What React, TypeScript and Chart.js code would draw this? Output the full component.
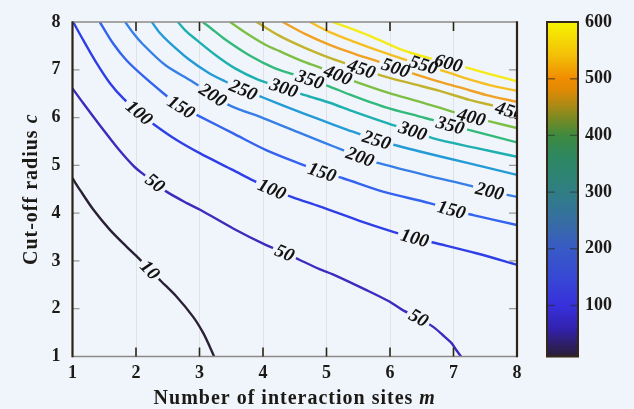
import React, { useEffect, useRef } from 'react';
import { Chart, registerables } from 'chart.js';

Chart.register(...registerables);

type Pt = [number, number];

// ---------------- data ----------------
const levels = [10, 50, 100, 150, 200, 250, 300, 350, 400, 450, 500, 550, 600];

const lineColors = [
  '#2a2136', '#3a2cbc', '#2f3fe8', '#3463f0', '#377fe6', '#259bd6', '#1eafb0',
  '#34b97c', '#7dbf45', '#c2b32c', '#f0a124', '#f5bf22', '#f5ea1a',
];

const contour10: Pt[] = [[1.0, 4.73], [1.12, 4.48], [1.33, 4.07], [1.59, 3.65], [1.85, 3.3], [2.04, 3.06], [2.22, 2.81], [2.4, 2.57], [2.64, 2.25], [2.9, 1.83], [3.06, 1.49], [3.16, 1.21], [3.23, 1.0]];
const contour50: Pt[] = [[1.0, 6.61], [1.17, 6.3], [1.43, 5.84], [1.7, 5.38], [1.96, 4.99], [2.12, 4.81], [2.3, 4.63], [2.48, 4.45], [2.8, 4.21], [3.01, 4.07], [3.53, 3.68], [4.05, 3.33], [4.34, 3.17], [4.58, 3.02], [4.89, 2.83], [5.1, 2.72], [5.63, 2.39], [5.99, 2.15], [6.2, 1.97], [6.45, 1.81], [6.68, 1.62], [6.83, 1.45], [6.97, 1.28], [7.04, 1.14], [7.12, 1.0]];
const contour100: Pt[] = [[1.01, 8.0], [1.17, 7.62], [1.38, 7.14], [1.59, 6.72], [1.8, 6.4], [2.05, 6.1], [2.3, 5.84], [2.64, 5.53], [3.01, 5.25], [3.53, 4.9], [3.85, 4.68], [4.14, 4.5], [4.47, 4.33], [4.89, 4.14], [5.52, 3.84], [6.05, 3.61], [6.39, 3.48], [6.73, 3.37], [7.36, 3.16], [8.0, 2.92]];
const contour150: Pt[] = [[1.43, 8.0], [1.64, 7.55], [1.85, 7.2], [2.12, 6.86], [2.43, 6.51], [2.71, 6.22], [3.01, 6.02], [3.53, 5.67], [4.05, 5.32], [4.63, 5.01], [4.93, 4.86], [5.26, 4.73], [5.89, 4.45], [6.62, 4.21], [6.97, 4.07], [7.31, 3.96], [8.0, 3.75]];
const contour200: Pt[] = [[1.83, 8.0], [1.95, 7.78], [2.09, 7.56], [2.46, 7.1], [2.88, 6.76], [3.21, 6.47], [3.5, 6.24], [4.0, 5.99], [4.58, 5.68], [4.97, 5.47], [5.26, 5.32], [5.53, 5.18], [5.84, 5.04], [6.67, 4.76], [7.21, 4.59], [7.57, 4.46], [8.0, 4.34]];
const contour250: Pt[] = [[2.25, 8.0], [2.37, 7.78], [2.51, 7.59], [2.83, 7.22], [3.14, 6.94], [3.4, 6.76], [3.69, 6.58], [4.0, 6.42], [4.42, 6.2], [4.89, 5.96], [5.32, 5.75], [5.79, 5.53], [6.12, 5.41], [6.47, 5.29], [7.25, 5.04], [8.0, 4.8]];
const contour300: Pt[] = [[2.66, 8.0], [2.78, 7.82], [2.93, 7.65], [3.25, 7.31], [3.56, 7.03], [3.93, 6.79], [4.33, 6.62], [4.66, 6.47], [5.05, 6.31], [5.44, 6.12], [5.99, 5.87], [6.36, 5.72], [6.67, 5.57], [7.33, 5.37], [8.0, 5.18]];
const contour350: Pt[] = [[3.05, 8.0], [3.17, 7.88], [3.4, 7.64], [3.79, 7.3], [4.19, 7.03], [4.47, 6.91], [4.74, 6.8], [5.05, 6.65], [5.37, 6.48], [5.92, 6.22], [6.47, 6.02], [6.67, 5.95], [6.95, 5.84], [7.3, 5.72], [8.0, 5.48]];
const contour400: Pt[] = [[3.48, 8.0], [3.72, 7.78], [4.03, 7.53], [4.26, 7.39], [4.66, 7.16], [4.93, 7.03], [5.18, 6.89], [5.52, 6.72], [5.99, 6.51], [6.47, 6.33], [6.94, 6.14], [7.28, 6.01], [7.6, 5.91], [8.0, 5.78]];
const contour450: Pt[] = [[3.9, 8.0], [4.26, 7.71], [4.66, 7.46], [5.05, 7.25], [5.33, 7.12], [5.55, 7.02], [5.84, 6.89], [6.31, 6.72], [6.78, 6.56], [7.25, 6.37], [7.65, 6.24], [7.88, 6.14], [8.0, 6.1]];
const contour500: Pt[] = [[4.31, 8.0], [4.66, 7.75], [5.05, 7.52], [5.45, 7.33], [5.84, 7.16], [6.09, 7.04], [6.39, 6.91], [6.73, 6.77], [7.13, 6.62], [7.52, 6.47], [8.0, 6.33]];
const contour550: Pt[] = [[4.74, 8.0], [5.05, 7.79], [5.45, 7.58], [5.84, 7.39], [6.2, 7.23], [6.53, 7.1], [6.95, 6.93], [7.17, 6.83], [7.57, 6.68], [8.0, 6.56]];
const contour600: Pt[] = [[5.1, 8.0], [5.29, 7.91], [5.68, 7.71], [6.2, 7.41], [6.55, 7.27], [6.92, 7.14], [7.22, 7.04], [7.57, 6.91], [8.0, 6.76]];

const labels10: Pt[] = [[2.22, 2.81]];
const labels50: Pt[] = [[2.3, 4.63], [4.34, 3.17], [6.45, 1.81]];
const labels100: Pt[] = [[2.05, 6.1], [4.14, 4.5], [6.39, 3.48]];
const labels150: Pt[] = [[2.71, 6.22], [4.93, 4.86], [6.97, 4.07]];
const labels200: Pt[] = [[3.21, 6.47], [5.53, 5.18], [7.57, 4.46]];
const labels250: Pt[] = [[3.69, 6.58], [5.79, 5.53]];
const labels300: Pt[] = [[4.33, 6.62], [6.36, 5.72]];
const labels350: Pt[] = [[4.74, 6.8], [6.95, 5.84]];
const labels400: Pt[] = [[5.18, 6.89], [7.28, 6.01]];
const labels450: Pt[] = [[5.55, 7.02], [7.88, 6.14]];
const labels500: Pt[] = [[6.09, 7.04]];
const labels550: Pt[] = [[6.53, 7.1]];
const labels600: Pt[] = [[6.92, 7.14]];

const contourLines = [contour10, contour50, contour100, contour150, contour200, contour250, contour300, contour350, contour400, contour450, contour500, contour550, contour600];
const contourLabels = [labels10, labels50, labels100, labels150, labels200, labels250, labels300, labels350, labels400, labels450, labels500, labels550, labels600];

const xTickValues = [1, 2, 3, 4, 5, 6, 7, 8];
const yTickValues = [1, 2, 3, 4, 5, 6, 7, 8];
const colorbarMin = 10;
const colorbarMax = 600;
const colorbarTicks = [100, 200, 300, 400, 500, 600];
const colorbarStops: [number, string][] = [
  [10, '#282037'], [30, '#2d1e64'], [60, '#3222b0'], [100, '#3730dc'], [150, '#3748d4'],
  [200, '#385ac6'], [240, '#376aa8'], [280, '#327890'], [320, '#2e8278'], [360, '#2d8762'],
  [400, '#3e8a40'], [430, '#7a8a22'], [455, '#b08a14'], [480, '#e08a04'], [500, '#f08c00'],
  [540, '#f3be08'], [600, '#f6f400'],
];

const xTitle = 'Number of interaction sites ';
const xTitleVar = 'm';
const yTitle = 'Cut-off radius ';
const yTitleVar = 'c';

// ---------------- styling ----------------
const BG = '#f0f5fb';
const SERIF = '"Liberation Serif", "Times New Roman", serif';
const LABEL_FONT = `italic bold 19px ${SERIF}`;
const TEXT = '#1c1a16';

type LabelItem = { x: number; y: number; ang: number; text: string; w: number };

function labelItems(chart: any, index: number): LabelItem[] {
  const list = contourLabels[index] || [];
  if (!list.length) return [];
  const meta = chart.getDatasetMeta(index);
  const pts = meta.data.map((p: any) => ({ x: p.x, y: p.y }));
  const xs = chart.scales.x;
  const ys = chart.scales.y;
  const ctx = chart.ctx;
  ctx.save();
  ctx.font = LABEL_FONT;
  const text = String(levels[index]);
  const w = ctx.measureText(text).width;
  ctx.restore();
  return list.map(([lx, ly]) => {
    const px = xs.getPixelForValue(lx);
    const py = ys.getPixelForValue(ly);
    let bi = 0;
    let bd = Infinity;
    pts.forEach((p: any, i: number) => {
      const d = (p.x - px) ** 2 + (p.y - py) ** 2;
      if (d < bd) { bd = d; bi = i; }
    });
    const a = pts[Math.max(0, bi - 1)];
    const b = pts[Math.min(pts.length - 1, bi + 1)];
    let ang = Math.atan2(b.y - a.y, b.x - a.x);
    if (ang > Math.PI / 2) ang -= Math.PI;
    if (ang < -Math.PI / 2) ang += Math.PI;
    return { x: px, y: py, ang, text, w };
  });
}

const contourPlugin = {
  id: 'contourDecor',
  beforeDatasetDraw(chart: any, args: any) {
    const ctx = chart.ctx;
    ctx.save();
    const items = labelItems(chart, args.index);
    if (!items.length) return;
    ctx.beginPath();
    ctx.rect(0, 0, chart.width, chart.height);
    items.forEach((it) => {
      const hw = it.w / 2 + 3;
      const hh = 8;
      const c = Math.cos(it.ang);
      const s = Math.sin(it.ang);
      const corners = [[-hw, -hh], [hw, -hh], [hw, hh], [-hw, hh]].map(([u, v]) => [it.x + u * c - v * s, it.y + u * s + v * c]);
      ctx.moveTo(corners[0][0], corners[0][1]);
      for (let k = 1; k < 4; k++) ctx.lineTo(corners[k][0], corners[k][1]);
      ctx.closePath();
    });
    ctx.clip('evenodd');
  },
  afterDatasetDraw(chart: any) {
    chart.ctx.restore();
  },
  afterDatasetsDraw(chart: any) {
    const ctx = chart.ctx;
    const area = chart.chartArea;
    ctx.save();
    ctx.beginPath();
    ctx.rect(area.left, area.top, area.right - area.left, area.bottom - area.top);
    ctx.clip();
    ctx.font = LABEL_FONT;
    ctx.fillStyle = '#141210';
    ctx.textAlign = 'center';
    ctx.textBaseline = 'middle';
    levels.forEach((_, i) => {
      labelItems(chart, i).forEach((it) => {
        ctx.save();
        ctx.translate(it.x, it.y);
        ctx.rotate(it.ang);
        ctx.fillText(it.text, 0, 1);
        ctx.restore();
      });
    });
    ctx.restore();
  },
  afterDraw(chart: any) {
    const ctx = chart.ctx;
    const { left, right, top, bottom } = chart.chartArea;
    const xs = chart.scales.x;
    const ys = chart.scales.y;
    const cb = chart.scales.cb;
    ctx.save();
    // frame
    ctx.lineCap = 'butt';
    ctx.strokeStyle = '#8c8a86';
    ctx.lineWidth = 1.6;
    ctx.beginPath();
    ctx.moveTo(left, top); ctx.lineTo(right, top);
    ctx.moveTo(left, bottom); ctx.lineTo(right, bottom);
    ctx.stroke();
    // inner ticks x (dark)
    ctx.strokeStyle = '#2c2416';
    ctx.lineWidth = 1.6;
    ctx.beginPath();
    xTickValues.slice(1, -1).forEach((v) => {
      const px = xs.getPixelForValue(v);
      ctx.moveTo(px, bottom); ctx.lineTo(px, bottom - 9);
      ctx.moveTo(px, top); ctx.lineTo(px, top + 9);
    });
    ctx.stroke();
    // inner ticks y (gray)
    ctx.strokeStyle = '#9a9894';
    ctx.lineWidth = 1.2;
    ctx.beginPath();
    yTickValues.slice(1, -1).forEach((v) => {
      const py = ys.getPixelForValue(v);
      ctx.moveTo(left, py); ctx.lineTo(left + 7, py);
      ctx.moveTo(right, py); ctx.lineTo(right - 8, py);
    });
    ctx.stroke();
    ctx.strokeStyle = '#2c2416';
    ctx.lineWidth = 2.2;
    ctx.beginPath();
    ctx.moveTo(left, top - 0.8); ctx.lineTo(left, bottom + 0.8);
    ctx.moveTo(right, top - 0.8); ctx.lineTo(right, bottom + 0.8);
    ctx.stroke();

    // colorbar
    const cx0 = right + 30;
    const cx1 = right + 61;
    const cTop = cb.getPixelForValue(colorbarMax);
    const cBot = cb.getPixelForValue(colorbarMin);
    const grad = ctx.createLinearGradient(0, cBot, 0, cTop);
    colorbarStops.forEach(([v, c]) => grad.addColorStop((v - colorbarMin) / (colorbarMax - colorbarMin), c));
    ctx.fillStyle = grad;
    ctx.fillRect(cx0, cTop, cx1 - cx0, cBot - cTop);
    ctx.strokeStyle = 'rgba(40,40,40,0.55)';
    ctx.lineWidth = 1.4;
    ctx.beginPath();
    colorbarTicks.slice(0, -1).forEach((v) => {
      const py = cb.getPixelForValue(v);
      ctx.moveTo(cx0, py); ctx.lineTo(cx0 + 8, py);
      ctx.moveTo(cx1, py); ctx.lineTo(cx1 - 8, py);
    });
    ctx.stroke();
    ctx.strokeStyle = '#33281a';
    ctx.lineWidth = 2;
    ctx.strokeRect(cx0, cTop, cx1 - cx0, cBot - cTop);

    // axis titles
    ctx.fillStyle = TEXT;
    ctx.textBaseline = 'alphabetic';
    ctx.textAlign = 'left';
    (ctx as any).letterSpacing = '1px';
    const fR = `bold 20px ${SERIF}`;
    const fI = `italic bold 20px ${SERIF}`;
    ctx.font = fR;
    const wA = ctx.measureText(xTitle).width;
    ctx.font = fI;
    const wB = ctx.measureText(xTitleVar).width;
    const xStart = (left + right) / 2 - (wA + wB) / 2;
    ctx.font = fR;
    ctx.fillText(xTitle, xStart, 404);
    ctx.font = fI;
    ctx.fillText(xTitleVar, xStart + wA, 404);

    ctx.font = fR;
    const wC = ctx.measureText(yTitle).width;
    ctx.font = fI;
    const wD = ctx.measureText(yTitleVar).width;
    ctx.translate(37, (top + bottom) / 2);
    ctx.rotate(-Math.PI / 2);
    const yStart = -(wC + wD) / 2;
    ctx.font = fR;
    ctx.fillText(yTitle, yStart, 0);
    ctx.font = fI;
    ctx.fillText(yTitleVar, yStart + wC, 0);
    ctx.restore();
  },
};

function zeroPad(s: any) {
  s.paddingTop = 0;
  s.paddingBottom = 0;
  s.paddingLeft = 0;
  s.paddingRight = 0;
}

export default function App() {
  const canvasRef = useRef<HTMLCanvasElement | null>(null);

  useEffect(() => {
    document.body.style.margin = '0';
    document.body.style.background = BG;
    const canvas = canvasRef.current;
    if (!canvas) return;
    const tickFont = { family: SERIF, size: 18, weight: 'bold' as const };
    const chart = new Chart(canvas, {
      type: 'scatter',
      data: {
        datasets: contourLines.map((pts, i) => ({
          label: String(levels[i]),
          data: pts.map(([x, y]) => ({ x, y })),
          showLine: true,
          borderColor: lineColors[i],
          backgroundColor: lineColors[i],
          borderWidth: 2.4,
          pointRadius: 0,
          pointHoverRadius: 0,
          tension: 0.3,
          fill: false,
        })),
      },
      options: {
        animation: false,
        responsive: false,
        maintainAspectRatio: false,
        events: [],
        layout: { padding: { top: 22, left: 0, right: 0, bottom: 0 } },
        plugins: { legend: { display: false }, tooltip: { enabled: false }, title: { display: false } },
        scales: {
          x: {
            type: 'linear',
            position: 'bottom',
            min: 1,
            max: 8,
            afterBuildTicks: (s: any) => { s.ticks = xTickValues.map((v) => ({ value: v })); },
            ticks: { font: tickFont, color: TEXT, padding: 6, maxRotation: 0, autoSkip: false },
            grid: { color: 'rgba(110,110,110,0.13)', lineWidth: 1, drawTicks: false },
            border: { display: false },
            afterFit: (s: any) => { s.height = 52.5; zeroPad(s); },
          },
          y: {
            type: 'linear',
            position: 'left',
            min: 1,
            max: 8,
            afterBuildTicks: (s: any) => { s.ticks = yTickValues.map((v) => ({ value: v })); },
            ticks: { font: tickFont, color: TEXT, padding: 12, autoSkip: false },
            grid: { display: false, drawTicks: false },
            border: { display: false },
            afterFit: (s: any) => { s.width = 72.5; zeroPad(s); },
          },
          cb: {
            type: 'linear',
            position: 'right',
            min: colorbarMin,
            max: colorbarMax,
            afterBuildTicks: (s: any) => { s.ticks = colorbarTicks.map((v) => ({ value: v })); },
            ticks: { font: tickFont, color: TEXT, padding: 68, autoSkip: false },
            grid: { display: false, drawTicks: false },
            border: { display: false },
            afterFit: (s: any) => { s.width = 117; zeroPad(s); },
          },
        },
      } as any,
      plugins: [contourPlugin as any],
    });
    return () => chart.destroy();
  }, []);

  return (
    <div style={{ width: 634, height: 409, background: BG, position: 'relative' }}>
      <canvas ref={canvasRef} width={634} height={409} style={{ display: 'block' }} />
    </div>
  );
}
